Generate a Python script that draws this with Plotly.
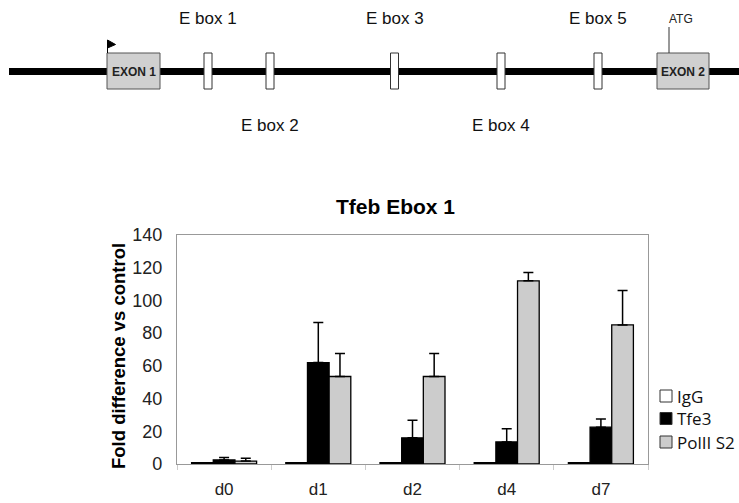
import plotly.graph_objects as go

# ---------------- data ----------------
categories = ["d0", "d1", "d2", "d4", "d7"]
series_names = ["IgG", "Tfe3", "PolII S2"]
igg = [0.8, 0.8, 0.8, 0.8, 0.8]
tfe3 = [2.5, 62, 16, 13.5, 22.5]
tfe3_err = [1.5, 24.5, 10.8, 8, 5]
pol2 = [1.8, 53.5, 53.5, 112, 85]
pol2_err = [1.7, 14, 14, 5, 21]
y_ticks = [0, 20, 40, 60, 80, 100, 120, 140]

# gene diagram (schematic units along the locus, 0..739)
ebox_labels = ["E box 1", "E box 2", "E box 3", "E box 4", "E box 5"]
ebox_pos = [208, 270, 394.5, 501, 598]
exon_labels = ["EXON 1", "EXON 2"]
exon_span = [(107, 160), (657, 709)]
atg_pos = 669

W, H = 739, 503
FONT = "Arial, Liberation Sans, sans-serif"


def px(x):
    return x / W


def py(y):
    return 1 - y / H


fig = go.Figure()

colors = ["white", "black", "#cccccc"]
vals = [igg, tfe3, pol2]
errs = [None, tfe3_err, pol2_err]
for name, v, e, c in zip(series_names, vals, errs, colors):
    kw = {}
    if e is not None:
        kw["error_y"] = dict(type="data", array=e, arrayminus=[0] * len(e),
                             symmetric=False, color="black", thickness=1.5, width=5)
    fig.add_trace(go.Bar(x=categories, y=v, name=name, marker=dict(color=c, line=dict(color="black", width=1.3)),
                         showlegend=False, xaxis="x", yaxis="y", **kw))

# invisible trace for diagram axes
fig.add_trace(go.Scatter(x=[0, 739], y=[0, 140], mode="markers", marker=dict(opacity=0),
                         showlegend=False, hoverinfo="skip", xaxis="x2", yaxis="y2"))

shapes = []
# chromosome line
shapes.append(dict(type="line", xref="x2", yref="y2", x0=9, x1=739, y0=71.5, y1=71.5,
                   line=dict(color="black", width=7)))
# E boxes
for p in ebox_pos:
    shapes.append(dict(type="rect", xref="x2", yref="y2", x0=p - 4, x1=p + 4, y0=53, y1=89,
                       fillcolor="white", line=dict(color="#333333", width=1)))
# exons
for (a, b) in exon_span:
    shapes.append(dict(type="rect", xref="x2", yref="y2", x0=a, x1=b, y0=53, y1=89,
                       fillcolor="#d0d0d0", line=dict(color="#555555", width=1)))
# flag at exon 1
shapes.append(dict(type="path", xref="x2", yref="y2",
                   path="M 107.5 40 L 115.5 44.5 L 107.5 48 Z", fillcolor="black",
                   line=dict(color="black", width=1)))
shapes.append(dict(type="line", xref="x2", yref="y2", x0=107.5, x1=107.5, y0=40, y1=53,
                   line=dict(color="black", width=1)))
# ATG tick
shapes.append(dict(type="line", xref="x2", yref="y2", x0=atg_pos, x1=atg_pos, y0=27, y1=53,
                   line=dict(color="#333333", width=1)))

# manual legend
leg_y = [396, 418.5, 442]
for yy, c in zip(leg_y, colors):
    shapes.append(dict(type="rect", xref="paper", yref="paper", x0=px(660), x1=px(672),
                       y0=py(yy + 6), y1=py(yy - 6), fillcolor=c,
                       line=dict(color="#333333", width=1)))

annotations = []
for i, (lab, p) in enumerate(zip(ebox_labels, ebox_pos)):
    yy = 18 if i % 2 == 0 else 125
    annotations.append(dict(x=p, y=yy, xref="x2", yref="y2", text=lab, showarrow=False,
                            xanchor="center", yanchor="middle",
                            font=dict(family=FONT, size=17, color="#111111")))
for lab, (a, b) in zip(exon_labels, exon_span):
    annotations.append(dict(x=(a + b) / 2, y=72, xref="x2", yref="y2", text="<b>%s</b>" % lab,
                            showarrow=False, xanchor="center", yanchor="middle",
                            font=dict(family=FONT, size=12, color="#222222")))
annotations.append(dict(x=681, y=19, xref="x2", yref="y2", text="ATG", showarrow=False,
                        xanchor="center", yanchor="middle",
                        font=dict(family=FONT, size=12, color="#222222")))

for yy, name in zip(leg_y, series_names):
    annotations.append(dict(x=px(675), y=py(yy), xref="paper", yref="paper", text=name,
                            showarrow=False, xanchor="left", yanchor="middle",
                            font=dict(family="Open Sans, sans-serif", size=17, color="#111111")))

annotations.append(dict(x=px(395), y=py(206), xref="paper", yref="paper",
                        text="<b>Tfeb Ebox 1</b>", showarrow=False, xanchor="center", yanchor="middle",
                        font=dict(family=FONT, size=21, color="black")))
annotations.append(dict(x=px(118), y=py(356), xref="paper", yref="paper",
                        text="<b>Fold difference vs control</b>", showarrow=False, textangle=-90,
                        xanchor="center", yanchor="middle",
                        font=dict(family=FONT, size=18.5, color="black")))

fig.update_layout(
    template="none",
    width=W, height=H,
    margin=dict(l=0, r=0, t=0, b=0, autoexpand=False),
    paper_bgcolor="white", plot_bgcolor="white",
    barmode="group", bargap=0.31, bargroupgap=0,
    showlegend=False,
    shapes=shapes, annotations=annotations,
    xaxis=dict(domain=[px(177), px(648)], anchor="y", showline=True, linecolor="#999999",
               linewidth=1.2, mirror=True, ticks="outside", tickson="boundaries", ticklen=5,
               tickcolor="#cccccc", showgrid=False, ticklabelstandoff=9, automargin=False,
               tickfont=dict(family=FONT, size=17, color="#222222"), fixedrange=True),
    yaxis=dict(domain=[py(464), py(235)], anchor="x", range=[0, 140], tickvals=y_ticks,
               showline=True, linecolor="#999999", linewidth=1.2, mirror=True, ticks="",
               showgrid=False, zeroline=False, ticklabelstandoff=10, automargin=False,
               tickfont=dict(family=FONT, size=18, color="#222222"), fixedrange=True),
    xaxis2=dict(domain=[0, 1], anchor="y2", range=[0, 739], visible=False, automargin=False),
    yaxis2=dict(domain=[py(140), 1], anchor="x2", range=[140, 0], visible=False, automargin=False),
)

fig.write_html("out.html", config={"displayModeBar": False},
               post_script="document.body.style.margin='0px';document.body.style.overflow='hidden';")
